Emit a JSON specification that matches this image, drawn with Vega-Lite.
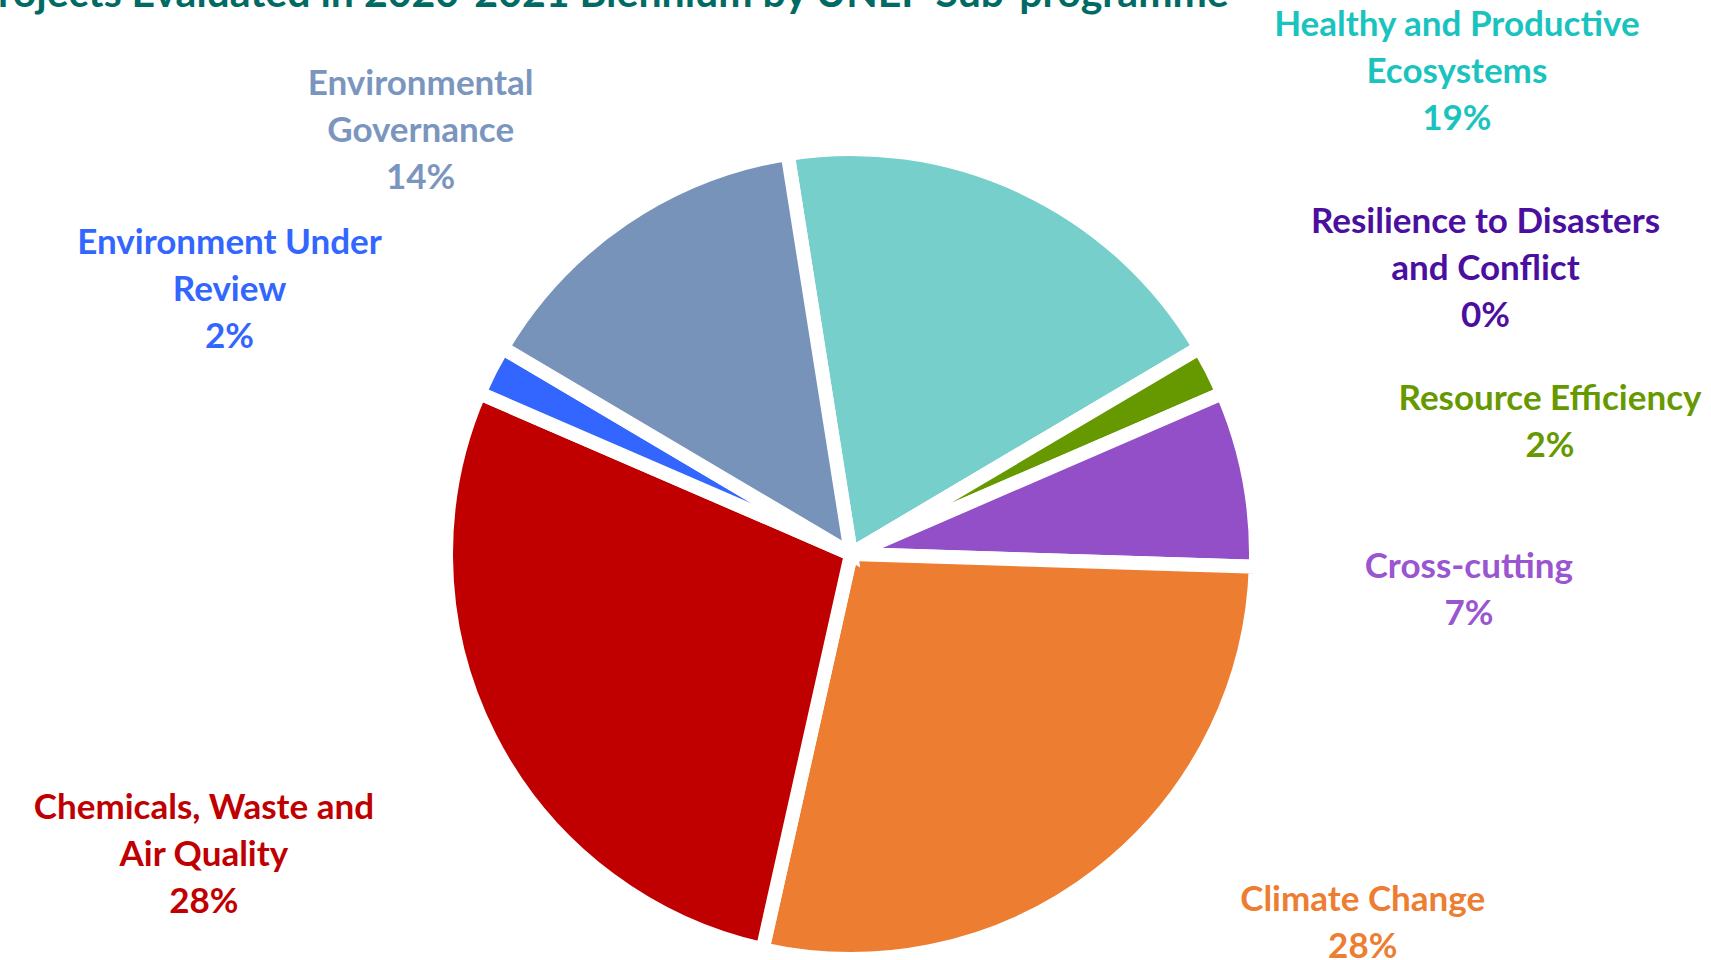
{
  "$schema": "https://vega.github.io/schema/vega-lite/v6.json",
  "autosize": {"type": "none"},
  "width": 1702,
  "height": 812,
  "padding": {"left": 0, "top": 148, "right": 9, "bottom": 0},
  "background": "white",
  "title": {
    "text": "Projects Evaluated in 2020-2021 Biennium by UNEP Sub-programme",
    "anchor": "start",
    "frame": "group",
    "orient": "top",
    "offset": 0,
    "baseline": "alphabetic",
    "dx": -27,
    "dy": 40,
    "font": "Lato",
    "fontWeight": "bold",
    "fontSize": 41,
    "color": "#006A64"
  },
  "data": {
    "values": [
      {"rank": 1, "category": "Healthy and Productive Ecosystems", "label": "Healthy and Productive\nEcosystems\n19%", "pct": 19},
      {"rank": 2, "category": "Resilience to Disasters and Conflict", "label": "Resilience to Disasters\nand Conflict\n0%", "pct": 0},
      {"rank": 3, "category": "Resource Efficiency", "label": "Resource Efficiency\n2%", "pct": 2},
      {"rank": 4, "category": "Cross-cutting", "label": "Cross-cutting\n7%", "pct": 7},
      {"rank": 5, "category": "Climate Change", "label": "Climate Change\n28%", "pct": 28},
      {"rank": 6, "category": "Chemicals, Waste and Air Quality", "label": "Chemicals, Waste and\nAir Quality\n28%", "pct": 28},
      {"rank": 7, "category": "Environment Under Review", "label": "Environment Under\nReview\n2%", "pct": 2},
      {"rank": 8, "category": "Environmental Governance", "label": "Environmental\nGovernance\n14%", "pct": 14}
    ]
  },
  "encoding": {
    "order": {"field": "rank", "type": "quantitative"},
    "text": {"field": "label", "type": "nominal"}
  },
  "layer": [
    {
      "mark": {"type": "arc", "radius": 405, "stroke": "white", "strokeWidth": 14},
      "encoding": {
        "theta": {"field": "pct", "type": "quantitative", "stack": true, "scale": {"domain": [0, 100], "range": [-0.157, 6.126]}},
        "color": {
          "field": "category", "type": "nominal", "legend": null,
          "scale": {
            "domain": ["Healthy and Productive Ecosystems", "Resilience to Disasters and Conflict", "Resource Efficiency", "Cross-cutting", "Climate Change", "Chemicals, Waste and Air Quality", "Environment Under Review", "Environmental Governance"],
            "range": ["#76CFCB", "#4B0FA0", "#669900", "#924FC8", "#ED7D31", "#C00000", "#3366FF", "#7893BA"]
          }
        }
      }
    },
    {
      "transform": [{"filter": "datum.rank == 1"}],
      "mark": {"type": "text", "radius": 804, "font": "Lato", "fontWeight": "bold", "fontSize": 35, "lineBreak": "\n", "lineHeight": 47, "align": "center", "baseline": "middle", "color": "#1BC3BF"},
      "encoding": {
        "theta": {"field": "pct", "type": "quantitative", "stack": true, "scale": {"nice": false, "zero": false, "domain": [0, 19], "range": [0.5, 1.207]}}
      }
    },
    {
      "transform": [{"filter": "datum.rank == 2 || datum.rank == 3"}],
      "mark": {"type": "text", "radius": 716, "font": "Lato", "fontWeight": "bold", "fontSize": 35, "lineBreak": "\n", "lineHeight": 47, "align": "center", "baseline": "middle"},
      "encoding": {
        "theta": {"field": "pct", "type": "quantitative", "stack": true, "scale": {"nice": false, "zero": false, "domain": [0, 1], "range": [1.0891, 1.3526]}},
        "color": {"field": "category", "type": "nominal", "legend": null, "scale": {"domain": ["Resilience to Disasters and Conflict", "Resource Efficiency"], "range": ["#4B0FA0", "#669900"]}}
      }
    },
    {
      "transform": [{"filter": "datum.rank == 4 || datum.rank == 5"}],
      "mark": {"type": "text", "radius": 618, "font": "Lato", "fontWeight": "bold", "fontSize": 35, "lineBreak": "\n", "lineHeight": 47, "align": "center", "baseline": "middle"},
      "encoding": {
        "theta": {"field": "pct", "type": "quantitative", "stack": true, "scale": {"nice": false, "zero": false, "domain": [3.5, 21], "range": [1.5917, 2.1660]}},
        "color": {"field": "category", "type": "nominal", "legend": null, "scale": {"domain": ["Cross-cutting", "Climate Change"], "range": ["#9A55D0", "#ED7D31"]}}
      }
    },
    {
      "transform": [{"filter": "datum.rank == 6 || datum.rank == 7"}],
      "mark": {"type": "text", "radius": 695, "font": "Lato", "fontWeight": "bold", "fontSize": 35, "lineBreak": "\n", "lineHeight": 47, "align": "center", "baseline": "middle"},
      "encoding": {
        "theta": {"field": "pct", "type": "quantitative", "stack": true, "scale": {"nice": false, "zero": false, "domain": [14, 29], "range": [4.3389, 5.1766]}},
        "color": {"field": "category", "type": "nominal", "legend": null, "scale": {"domain": ["Chemicals, Waste and Air Quality", "Environment Under Review"], "range": ["#C00000", "#3366FF"]}}
      }
    },
    {
      "transform": [{"filter": "datum.rank == 8"}],
      "mark": {"type": "text", "radius": 637, "font": "Lato", "fontWeight": "bold", "fontSize": 35, "lineBreak": "\n", "lineHeight": 47, "align": "center", "baseline": "middle", "color": "#7B96BE"},
      "encoding": {
        "theta": {"field": "pct", "type": "quantitative", "stack": true, "scale": {"nice": false, "zero": false, "domain": [0, 14], "range": [5.2414, 5.8414]}}
      }
    }
  ],
  "resolve": {"scale": {"theta": "independent", "color": "independent"}}
}
